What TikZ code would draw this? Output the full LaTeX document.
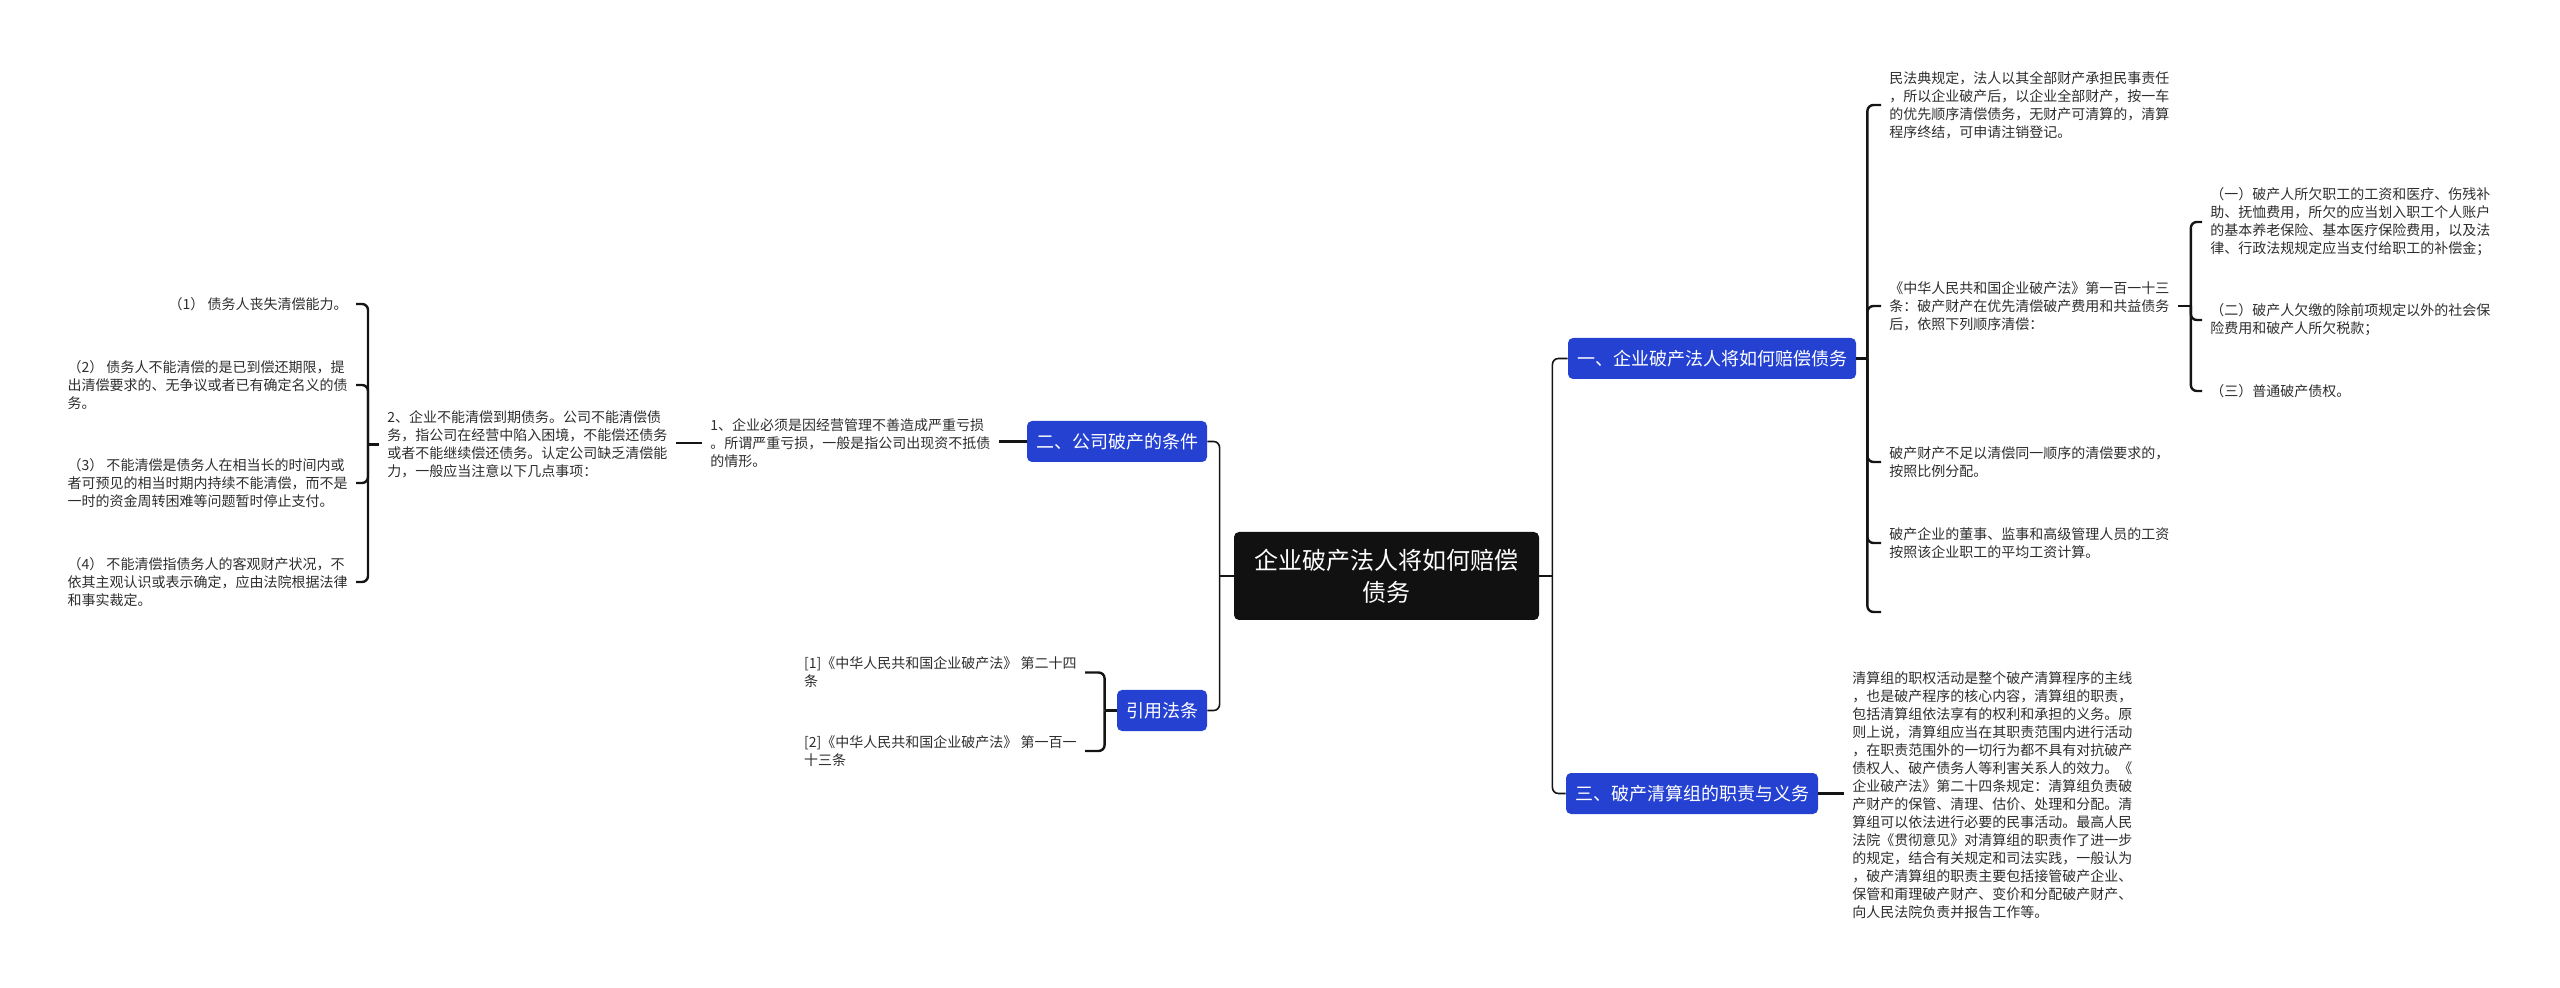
\documentclass[tikz,border=0pt]{standalone}
\usepackage{fontspec}
\newfontfamily\cjk{Noto Sans CJK SC}
\definecolor{branchblue}{RGB}{37,65,210}
\definecolor{rootblack}{RGB}{17,17,17}
\definecolor{txtgray}{RGB}{45,45,45}
\definecolor{linecol}{RGB}{20,20,20}
\begin{document}
\begin{tikzpicture}[x=0.5pt,y=-0.5pt,
  trunk/.style={draw=linecol, line width=0.8pt, rounded corners=3pt},
  bracket/.style={draw=linecol, line width=1.2pt, rounded corners=3pt},
  rootnode/.style={fill=rootblack, rounded corners=2.5pt, text=white, font=\cjk\fontsize{12pt}{16pt}\selectfont, align=center, minimum width=152.5pt, minimum height=44pt, inner sep=0pt},
  branch/.style={fill=branchblue, rounded corners=2.5pt, text=white, font=\cjk\fontsize{9pt}{11pt}\selectfont, minimum height=20.5pt, inner xsep=4.5pt, inner ysep=0pt},
  leaf/.style={text=txtgray, font=\cjk\fontsize{7pt}{9pt}\selectfont, align=left, inner xsep=4pt, inner ysep=0pt},
]
\useasboundingbox (0,0) rectangle (2560,988);

% root and branches
\node[rootnode] (c) at (1386.5,576) {企业破产法人将如何赔偿\\债务};
\node[branch] (b1) at (1712,358.5) {一、企业破产法人将如何赔偿债务};
\node[branch] (b3) at (1692,793.5) {三、破产清算组的职责与义务};
\node[branch] (b2) at (1117,441.5) {二、公司破产的条件};
\node[branch] (b4) at (1162,710.5) {引用法条};

\coordinate (JL) at ([xshift=-7pt]c.west);
\coordinate (JR) at ([xshift=6.5pt]c.east);
\draw[trunk] (c.west) -- (JL);
\draw[trunk] (c.east) -- (JR);
\draw[trunk] (JL) |- (b2.east);
\draw[trunk] (JL) |- (b4.east);
\draw[trunk] (JR) |- (b1.west);
\draw[trunk] (JR) |- (b3.west);

% branch one children
\node[leaf, anchor=west] (t1) at (1881,105) {民法典规定，法人以其全部财产承担民事责任\\，所以企业破产后，以企业全部财产，按一车\\的优先顺序清偿债务，无财产可清算的，清算\\程序终结，可申请注销登记。};
\node[leaf, anchor=west] (t2) at (1881,306) {《中华人民共和国企业破产法》第一百一十三\\条：破产财产在优先清偿破产费用和共益债务\\后，依照下列顺序清偿：};
\node[leaf, anchor=west] (t3) at (1881,462) {破产财产不足以清偿同一顺序的清偿要求的，\\按照比例分配。};
\node[leaf, anchor=west] (t4) at (1881,543) {破产企业的董事、监事和高级管理人员的工资\\按照该企业职工的平均工资计算。};
\coordinate (t6) at (1881,612);

\coordinate (J1) at ([xshift=5.5pt]b1.east);
\draw[bracket] (b1.east) -- (J1);
\foreach \n in {t1,t2,t3,t4,t6} \draw[bracket] (J1) |- (\n.west);

\node[leaf, anchor=west] (s1) at (2202,222) {（一）破产人所欠职工的工资和医疗、伤残补\\助、抚恤费用，所欠的应当划入职工个人账户\\的基本养老保险、基本医疗保险费用，以及法\\律、行政法规规定应当支付给职工的补偿金；};
\node[leaf, anchor=west] (s2) at (2202,320) {（二）破产人欠缴的除前项规定以外的社会保\\险费用和破产人所欠税款；};
\node[leaf, anchor=west] (s3) at (2202,391) {（三）普通破产债权。};

\coordinate (J2) at ([xshift=6.5pt]t2.east);
\draw[bracket] (t2.east) -- (J2);
\foreach \n in {s1,s2,s3} \draw[bracket] (J2) |- (\n.west);

% branch three child
\node[leaf, anchor=west] (t5) at (1844,795.5) {清算组的职权活动是整个破产清算程序的主线\\，也是破产程序的核心内容，清算组的职责，\\包括清算组依法享有的权利和承担的义务。原\\则上说，清算组应当在其职责范围内进行活动\\，在职责范围外的一切行为都不具有对抗破产\\债权人、破产债务人等利害关系人的效力。《\\企业破产法》第二十四条规定：清算组负责破\\产财产的保管、清理、估价、处理和分配。清\\算组可以依法进行必要的民事活动。最高人民\\法院《贯彻意见》对清算组的职责作了进一步\\的规定，结合有关规定和司法实践，一般认为\\，破产清算组的职责主要包括接管破产企业、\\保管和甭理破产财产、变价和分配破产财产、\\向人民法院负责并报告工作等。};
\draw[bracket] (b3.east) -- (b3.east -| t5.west);

% branch two children
\node[leaf, anchor=west] (L1) at (702,443) {1、企业必须是因经营管理不善造成严重亏损\\。所谓严重亏损，一般是指公司出现资不抵债\\的情形。};
\node[leaf, anchor=west] (L2) at (379,444.5) {2、企业不能清偿到期债务。公司不能清偿债\\务，指公司在经营中陷入困境，不能偿还债务\\或者不能继续偿还债务。认定公司缺乏清偿能\\力，一般应当注意以下几点事项：};
\draw[bracket] (b2.west) -- (b2.west -| L1.east);
\draw[bracket] (L1.west) -- (L1.west -| L2.east);

\node[leaf, anchor=east] (P1) at (356,304) {（1） 债务人丧失清偿能力。};
\node[leaf, anchor=east] (P2) at (356,385) {（2） 债务人不能清偿的是已到偿还期限，提\\出清偿要求的、无争议或者已有确定名义的债\\务。};
\node[leaf, anchor=east] (P3) at (356,483) {（3） 不能清偿是债务人在相当长的时间内或\\者可预见的相当时期内持续不能清偿，而不是\\一时的资金周转困难等问题暂时停止支付。};
\node[leaf, anchor=east] (P4) at (356,582) {（4） 不能清偿指债务人的客观财产状况，不\\依其主观认识或表示确定，应由法院根据法律\\和事实裁定。};

\coordinate (JP) at ([xshift=-5.5pt]L2.west);
\draw[bracket] (L2.west) -- (JP);
\foreach \n in {P1,P2,P3,P4} \draw[bracket] (JP) |- (\n.east);

% citations
\node[leaf, anchor=east] (R1) at (1085,672.5) {[1]《中华人民共和国企业破产法》 第二十四\\条};
\node[leaf, anchor=east] (R2) at (1085,751) {[2]《中华人民共和国企业破产法》 第一百一\\十三条};
\coordinate (J4) at ([xshift=-6pt]b4.west);
\draw[bracket] (b4.west) -- (J4);
\foreach \n in {R1,R2} \draw[bracket] (J4) |- (\n.east);
\end{tikzpicture}
\end{document}
